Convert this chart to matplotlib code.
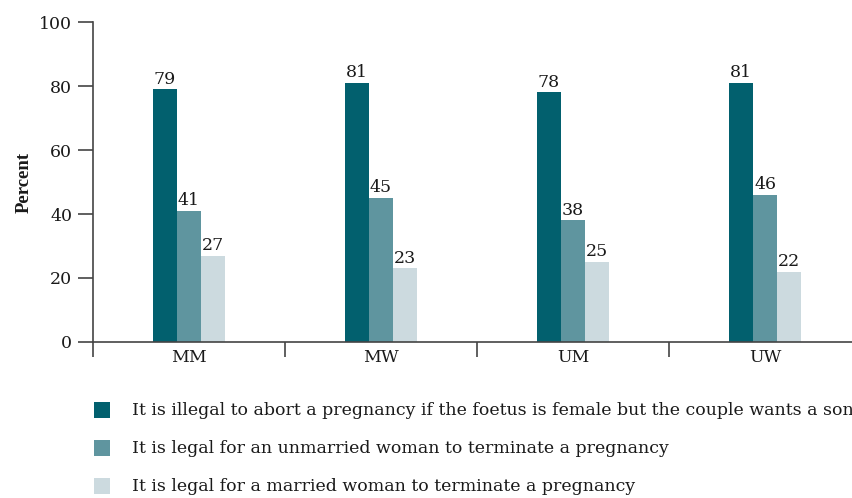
import numpy as np
import matplotlib.pyplot as plt
from matplotlib.patches import Rectangle

plt.rcParams['font.family'] = ['DejaVu Serif']

groups = ['MM', 'MW', 'UM', 'UW']
illegal_sex_selective = [79, 81, 78, 81]
legal_unmarried = [41, 45, 38, 46]
legal_married = [27, 23, 25, 22]

series_labels = [
    'It is illegal to abort a pregnancy if the foetus is female but the couple wants a son',
    'It is legal for an unmarried woman to terminate a pregnancy',
    'It is legal for a married woman to terminate a pregnancy',
]
colors = ['#02606e', '#5f959f', '#ccdadf']
series = [illegal_sex_selective, legal_unmarried, legal_married]

FS = 12.5
W, H = 852, 498
fig = plt.figure(figsize=(W / 100, H / 100), dpi=100)
ax = fig.add_axes([93 / W, 1 - 342 / H, 768 / W, 320 / H])

x = np.arange(len(groups)) + 0.5
w = 0.125
for i, (vals, col) in enumerate(zip(series, colors)):
    pos = x + (i - 1) * w
    ax.bar(pos, vals, w, color=col, linewidth=0)
    for p, v in zip(pos, vals):
        ax.text(p, v + 0.5, str(v), ha='center', va='bottom',
                fontsize=FS, color='#1a1a1a')

ax.set_xlim(0, 4)
ax.set_ylim(0, 100)
ax.set_yticks([0, 20, 40, 60, 80, 100])
ax.set_xticks([0, 1, 2, 3, 4])
ax.set_xticklabels([])
ax.set_xticks(x, minor=True)
ax.set_xticklabels(groups, minor=True)
ax.tick_params(axis='x', which='minor', length=0, pad=5, labelsize=FS,
               labelcolor='#1a1a1a')
ax.tick_params(axis='x', which='major', length=11, width=1.2, color='#444444')
ax.tick_params(axis='y', length=11, width=1.2, color='#444444', labelsize=FS,
               labelcolor='#1a1a1a', pad=4)

for s in ['top', 'right']:
    ax.spines[s].set_visible(False)
for s in ['left', 'bottom']:
    ax.spines[s].set_color('#444444')
    ax.spines[s].set_linewidth(1.2)

ax.set_ylabel('Percent', fontsize=13.5, fontweight='bold', labelpad=5,
              family=['Liberation Serif'], color='#1a1a1a')

# legend rows below the axes; the first label runs off the right edge
row_y = [410, 448, 486]
for lab, col, ry in zip(series_labels, colors, row_y):
    fig.add_artist(Rectangle((94 / W, 1 - (ry + 8) / H), 16 / W, 16 / H,
                             transform=fig.transFigure, color=col, linewidth=0))
    fig.text(132 / W, 1 - ry / H, lab, ha='left', va='center',
             fontsize=FS, color='#1a1a1a')

fig.savefig('out.png', dpi=100)
